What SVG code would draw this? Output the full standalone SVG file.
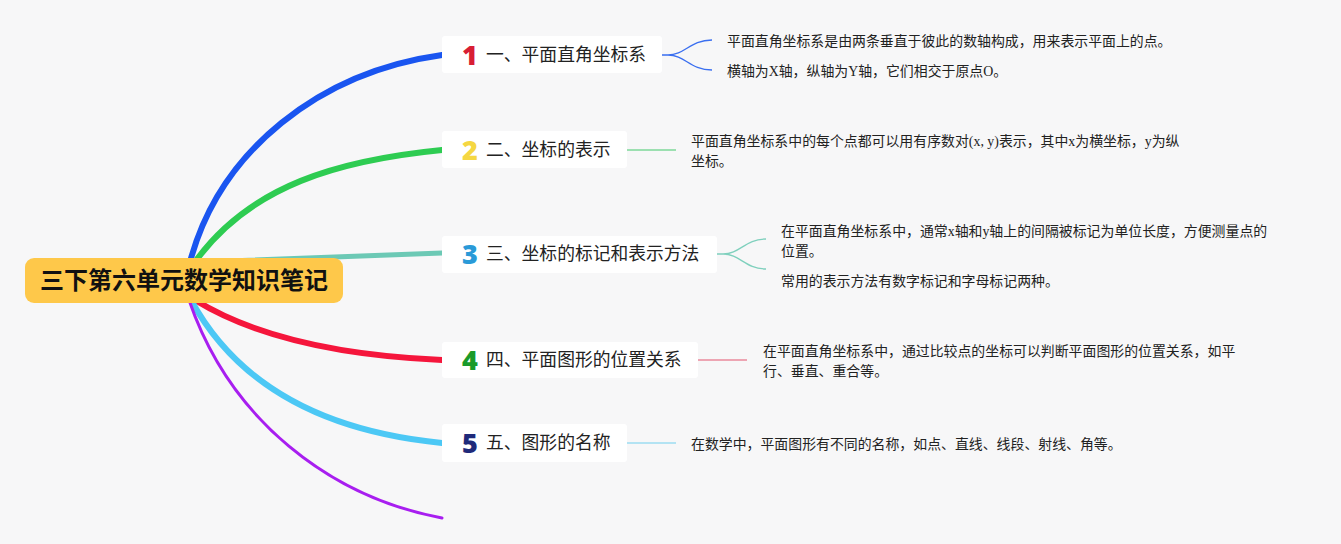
<svg xmlns="http://www.w3.org/2000/svg" width="1341" height="544" viewBox="0 0 1341 544">
<style>
.bg{fill:#f7f7f8}
.box{fill:#ffffff}
.lbl{font-family:"Noto Sans CJK SC","Noto Sans",sans-serif;font-size:17.8px;fill:#222}
.num{font-family:"Open Sans","Noto Sans",sans-serif;font-weight:800;font-size:27px;text-anchor:middle}
.sub{font-family:"Liberation Serif","Noto Sans CJK SC",serif;font-size:13.9px;fill:#222}
.main{fill:none;stroke-linecap:round}
.thin{fill:none;stroke-width:1.3}
.root{font-family:"Noto Sans CJK SC",sans-serif;font-weight:bold;font-size:24px;fill:#111;text-anchor:middle}
</style>
<rect class="bg" x="0" y="0" width="1341" height="544"/>
<g id="connectors">
<path class="main" d="M190 262 C 220 150 320 72 442 55" stroke="#1a55f0" stroke-width="6"/>
<path class="main" d="M195 262 C 250 185 340 160 442 150" stroke="#2ecc52" stroke-width="6"/>
<path class="main" d="M200 262 C 300 258 380 255 442 253" stroke="#6cc9b5" stroke-width="5"/>
<path class="main" d="M195 300 C 260 340 350 356 442 360" stroke="#f5163c" stroke-width="6"/>
<path class="main" d="M191 300 C 240 390 330 432 442 443" stroke="#4cc8f5" stroke-width="6"/>
<path class="main" d="M189 300 C 230 420 330 497 442 518" stroke="#a81ef0" stroke-width="3"/>
<path class="thin" d="M662 55 L668 55 C 685 55 690 40 712 40 M668 55 C 685 55 690 70 712 70" stroke="#3a6ff0"/>
<path class="thin" d="M627 150 L676 150" stroke="#7ed89a"/>
<path class="thin" d="M717 254 L723 254 C 740 254 745 239 766 239 M723 254 C 740 254 745 269 766 269" stroke="#7fd0bd"/>
<path class="thin" d="M698 360 L747 360" stroke="#ea8a9c"/>
<path class="thin" d="M627 443 L676 443" stroke="#9ddcf2"/>
</g>
<g id="root">
<rect x="25" y="258" width="318" height="45" rx="9" fill="#fec84a"/>
<text class="root" x="184" y="289">三下第六单元数学知识笔记</text>
</g>
<g id="node1">
<rect class="box" x="442" y="36" width="220" height="37" rx="3"/>
<text class="num" x="470" y="65" fill="#d81e34">1</text>
<text class="lbl" x="486" y="61">一、平面直角坐标系</text>
</g>
<g id="node1a"><text class="sub" x="727" y="46">平面直角坐标系是由两条垂直于彼此的数轴构成，用来表示平面上的点。</text></g>
<g id="node1b"><text class="sub" x="727" y="76">横轴为X轴，纵轴为Y轴，它们相交于原点O。</text></g>
<g id="node2">
<rect class="box" x="442" y="131" width="185" height="37" rx="3"/>
<text class="num" x="470" y="160" fill="#f5d742">2</text>
<text class="lbl" x="486" y="156">二、坐标的表示</text>
</g>
<g id="node2a"><text class="sub" x="691" y="146">平面直角坐标系中的每个点都可以用有序数对(x, y)表示，其中x为横坐标，y为纵</text><text class="sub" x="691" y="166">坐标。</text></g>
<g id="node3">
<rect class="box" x="442" y="236" width="275" height="37" rx="3"/>
<text class="num" x="470" y="264" fill="#2a9ad8">3</text>
<text class="lbl" x="486" y="260">三、坐标的标记和表示方法</text>
</g>
<g id="node3a"><text class="sub" x="781" y="236">在平面直角坐标系中，通常x轴和y轴上的间隔被标记为单位长度，方便测量点的</text><text class="sub" x="781" y="256">位置。</text></g>
<g id="node3b"><text class="sub" x="781" y="286">常用的表示方法有数字标记和字母标记两种。</text></g>
<g id="node4">
<rect class="box" x="442" y="342" width="256" height="36" rx="3"/>
<text class="num" x="470" y="370" fill="#1a9a2a">4</text>
<text class="lbl" x="486" y="366">四、平面图形的位置关系</text>
</g>
<g id="node4a"><text class="sub" x="763" y="356">在平面直角坐标系中，通过比较点的坐标可以判断平面图形的位置关系，如平</text><text class="sub" x="763" y="376">行、垂直、重合等。</text></g>
<g id="node5">
<rect class="box" x="442" y="424" width="185" height="38" rx="3"/>
<text class="num" x="470" y="453" fill="#1f2a7a">5</text>
<text class="lbl" x="486" y="449">五、图形的名称</text>
</g>
<g id="node5a"><text class="sub" x="691" y="449">在数学中，平面图形有不同的名称，如点、直线、线段、射线、角等。</text></g>
</svg>
